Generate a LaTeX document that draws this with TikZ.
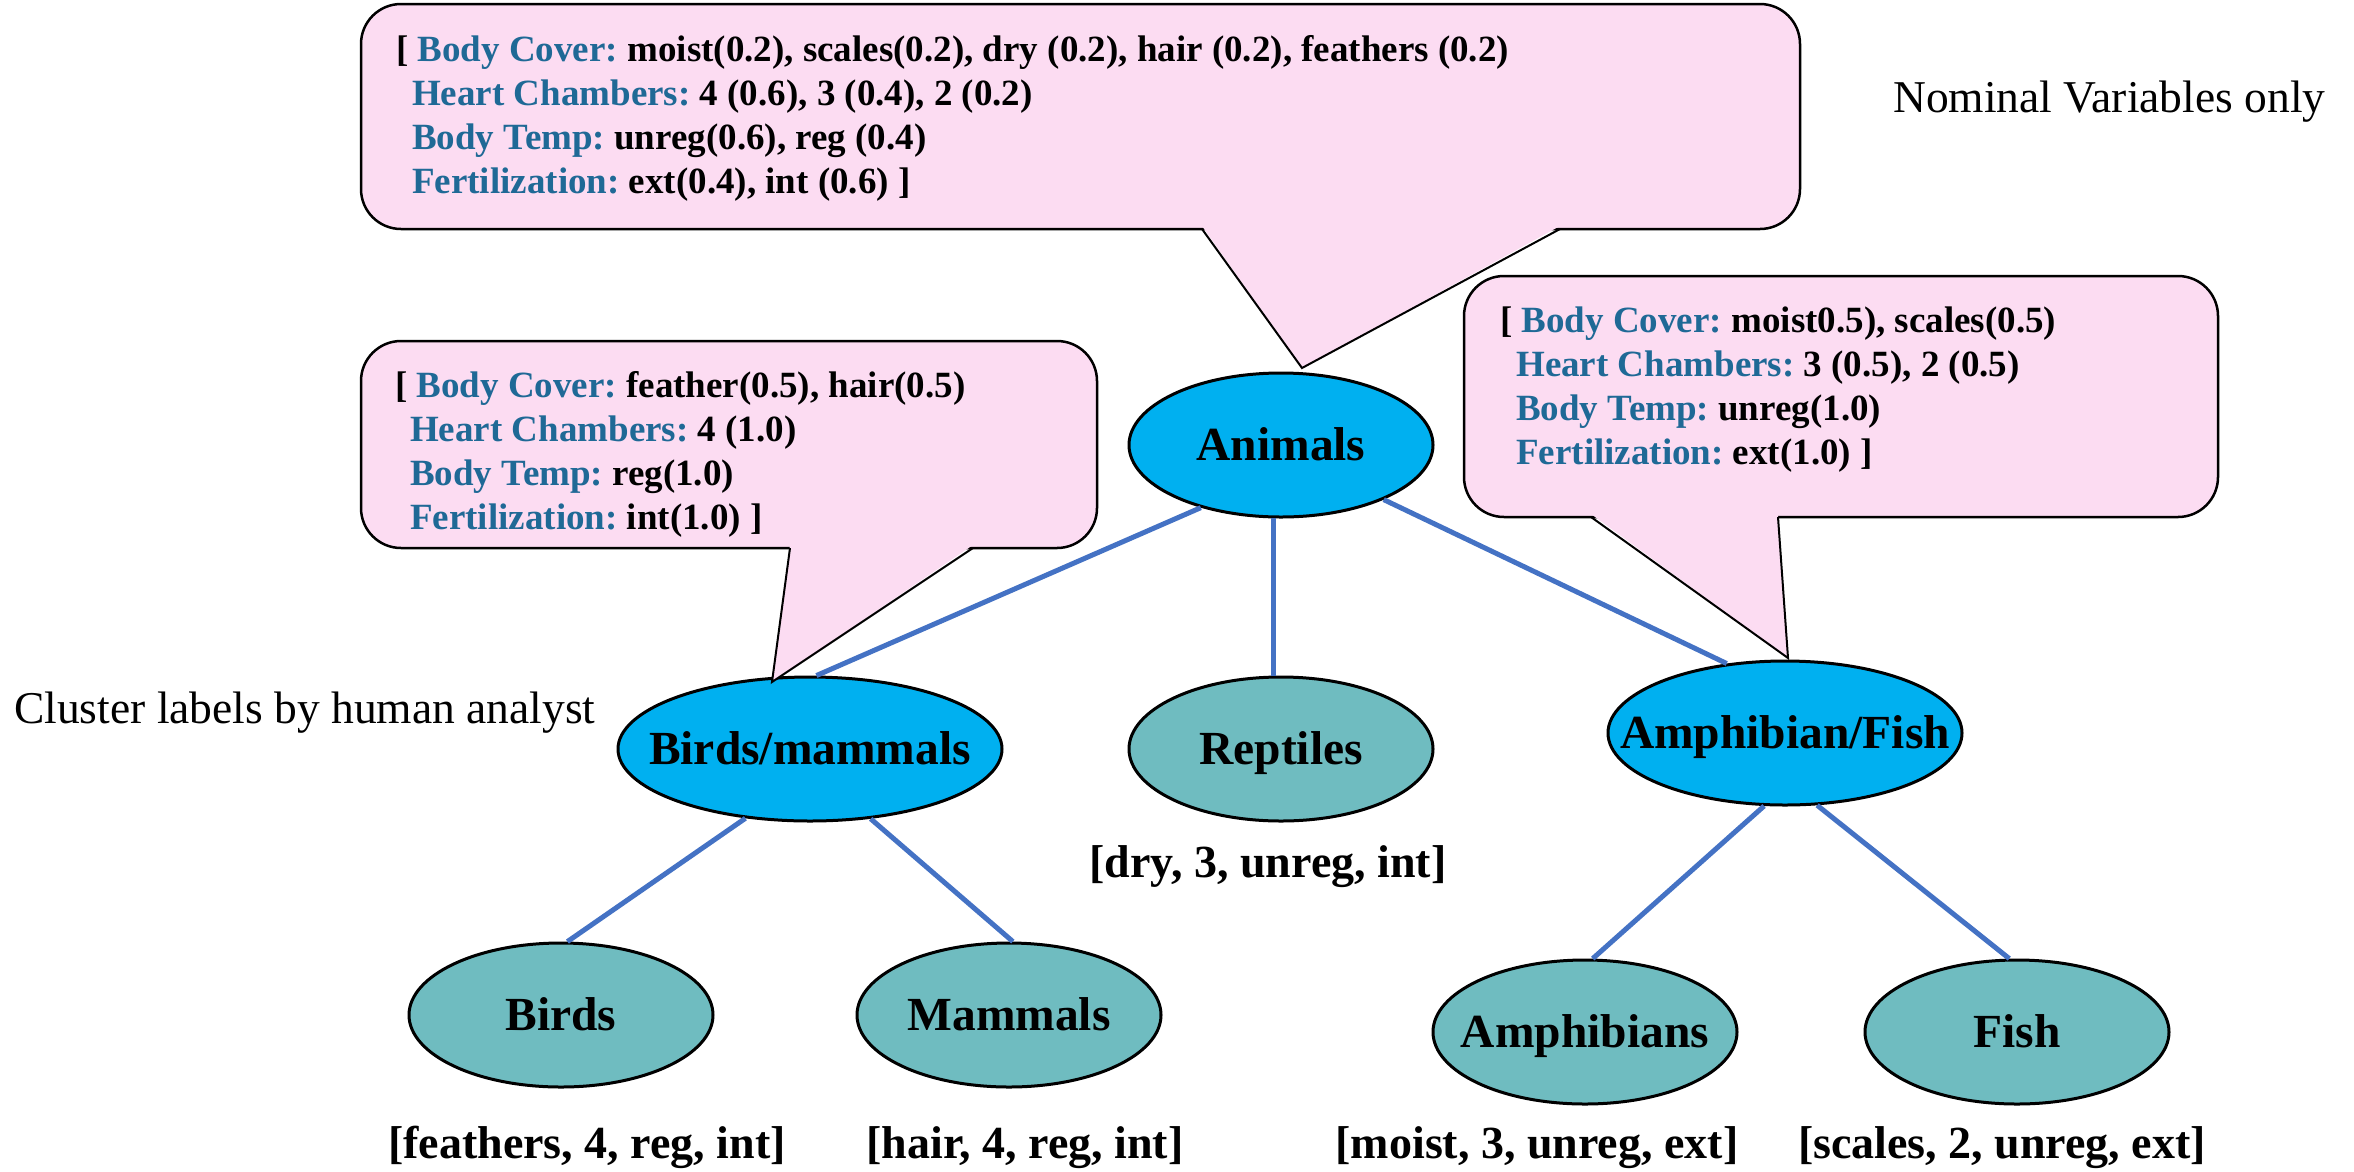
\documentclass[tikz,border=0pt]{standalone}
\usepackage{fontspec}
\setmainfont{Liberation Serif}
\usetikzlibrary{shapes.geometric}
\definecolor{bubblepink}{RGB}{252,220,242}
\definecolor{nodeblue}{RGB}{0,176,240}
\definecolor{nodeteal}{RGB}{111,188,192}
\definecolor{edgeblue}{RGB}{68,114,196}
\definecolor{attrblue}{RGB}{31,105,150}
\newcommand{\attrib}[1]{\textcolor{attrblue}{#1}}
\frenchspacing
\begin{document}
\begin{tikzpicture}[x=1pt,y=-1pt,
  ellbase/.style={ellipse, draw=black, line width=3pt, inner sep=0pt, minimum height=144},
  blueell/.style={ellbase, fill=nodeblue, minimum width=#1},
  tealell/.style={ellbase, fill=nodeteal, minimum width=#1},
  elab/.style={inner sep=0pt, text height=36pt, text depth=5pt, font=\fontsize{47.5}{56}\selectfont\bfseries},
  bubtext/.style={anchor=base west, inner sep=0pt, font=\fontsize{37}{44}\selectfont\bfseries\frenchspacing},
  bubble/.style={draw=black, line width=2.5pt, fill=bubblepink, rounded corners=40pt},
  pointer/.style={draw=black, line width=2pt, line join=miter},
  note/.style={anchor=base west, inner sep=0pt, font=\fontsize{45.5}{54}\selectfont},
  leaflab/.style={anchor=base, inner sep=0pt, font=\fontsize{46}{54}\selectfont\bfseries\frenchspacing},
  edge/.style={draw=edgeblue, line width=5pt}]
\useasboundingbox (0,0) rectangle (2354,1171);

% ellipses
\node[blueell=304] (animals) at (1281,445) {};
\node[tealell=304] (reptiles) at (1281,749) {};
\node[blueell=384] (bm) at (810,749) {};
\node[blueell=354] (af) at (1785,733) {};
\node[tealell=304] (birds) at (561,1015) {};
\node[tealell=304] (mammals) at (1009,1015) {};
\node[tealell=304] (amphibians) at (1585,1032) {};
\node[tealell=304] (fish) at (2017,1032) {};

\node[elab] (animalsT) at (animals.center) {Animals};
\node[elab] (reptilesT) at (reptiles.center) {Reptiles};
\node[elab] (bmT) at (bm.center) {Birds/mammals};
\node[elab] (afT) at (af.center) {Amphibian/Fish};
\node[elab] (birdsT) at (birds.center) {Birds};
\node[elab] (mammalsT) at (mammals.center) {Mammals};
\node[elab] (amphibiansT) at (amphibians.center) {Amphibians};
\node[elab] (fishT) at (fish.center) {Fish};

% connectors
\draw[edge] (animals.218.5) -- (bm.85);
\draw[edge] (animals.264) -- (reptiles.96);
\draw[edge] (animals.332.4) -- (af.130.8);
\draw[edge] (bm.227.5) -- (birds.85);
\draw[edge] (bm.311.6) -- (mammals.87);
\draw[edge] (af.254.5) -- (amphibians.84.5);
\draw[edge] (af.294) -- (fish.96);

% top bubble
\path[bubble] (361,4) rectangle (1800,229);
\fill[bubblepink] (1202,226) -- (1302,368) -- (1560,226) -- cycle;
\draw[pointer] (1202,229) -- (1302,368) -- (1560,229);
\node[bubtext] (top1) at (396,61) {[ \attrib{Body Cover:} moist(0.2), scales(0.2), dry (0.2), hair (0.2), feathers (0.2)};
\node[bubtext] (top2) at (412,105) {\attrib{Heart Chambers:} 4 (0.6), 3 (0.4), 2 (0.2)};
\node[bubtext] (top3) at (412,149) {\attrib{Body Temp:} unreg(0.6), reg (0.4)};
\node[bubtext] (top4) at (412,193) {\attrib{Fertilization:} ext(0.4), int (0.6) ]};

% left bubble
\path[bubble] (361,341) rectangle (1097,548);
\fill[bubblepink] (790,545) -- (772,682) -- (973,545) -- cycle;
\draw[pointer] (790,548) -- (772,682) -- (973,548);
\node[bubtext] (left1) at (395,397) {[ \attrib{Body Cover:} feather(0.5), hair(0.5)};
\node[bubtext] (left2) at (410,441) {\attrib{Heart Chambers:} 4 (1.0)};
\node[bubtext] (left3) at (410,485) {\attrib{Body Temp:} reg(1.0)};
\node[bubtext] (left4) at (410,529) {\attrib{Fertilization:} int(1.0) ]};

% right bubble
\path[bubble] (1464,276) rectangle (2218,517);
\fill[bubblepink] (1591,514) -- (1788,658) -- (1778,514) -- cycle;
\draw[pointer] (1591,517) -- (1788,658) -- (1778,517);
\node[bubtext] (right1) at (1500,332) {[ \attrib{Body Cover:} moist0.5), scales(0.5)};
\node[bubtext] (right2) at (1516,376) {\attrib{Heart Chambers:} 3 (0.5), 2 (0.5)};
\node[bubtext] (right3) at (1516,420) {\attrib{Body Temp:} unreg(1.0)};
\node[bubtext] (right4) at (1516,464) {\attrib{Fertilization:} ext(1.0) ]};

% notes
\node[note] (nominal) at (1893,112) {Nominal Variables only};
\node[note] (cluster) at (14,723) {Cluster labels by human analyst};

% leaf labels
\node[leaflab] (reptilesL) at (1268,877) {[dry, 3, unreg, int]};
\node[leaflab] (birdsL) at (587,1158) {[feathers, 4, reg, int]};
\node[leaflab] (mammalsL) at (1025,1158) {[hair, 4, reg, int]};
\node[leaflab] (amphibiansL) at (1537,1158) {[moist, 3, unreg, ext]};
\node[leaflab] (fishL) at (2002,1158) {[scales, 2, unreg, ext]};
\end{tikzpicture}
\end{document}
